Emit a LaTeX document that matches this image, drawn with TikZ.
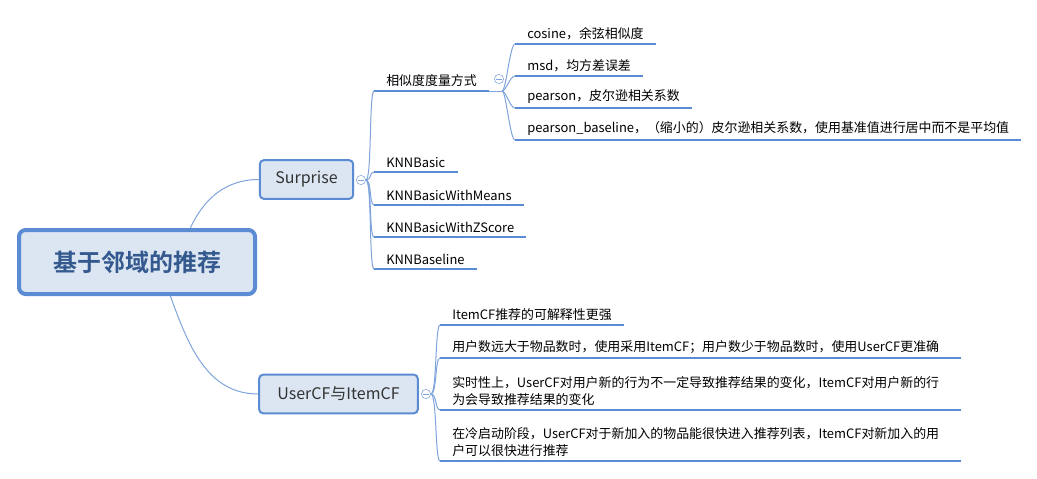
\documentclass[tikz,border=0pt]{standalone}
\usepackage{fontspec}
\setmainfont{Noto Sans CJK SC}[BoldFont={Noto Sans CJK SC Bold}]

\definecolor{mapline}{HTML}{5B8BD3}
\definecolor{mapfill}{HTML}{DCE6F2}
\definecolor{maptext}{HTML}{34598F}
\definecolor{mapthin}{HTML}{7FA3DB}

\begin{document}
\begin{tikzpicture}[x=0.75pt,y=-0.75pt,
  root/.style={draw=mapline, line width=3pt, fill=mapfill, rounded corners=5pt,
    minimum width=177pt, minimum height=48pt,
    font=\fontsize{18}{20}\selectfont\bfseries, text=maptext},
  topic/.style={draw=mapline, line width=1.5pt, fill=mapfill, rounded corners=3pt,
    minimum height=29pt, font=\fontsize{12}{14}\selectfont, text=black!80},
  item/.style={anchor=south west, inner xsep=9pt, inner ysep=3pt,
    font=\fontsize{9.7}{13}\selectfont, align=left},
  wide/.style={text width=372pt},
  uline/.style={draw=mapline, line width=2.2pt},
  link/.style={draw=mapthin, line width=0.75pt},
  fold/.style={circle, draw=mapthin, fill=white, inner sep=0pt, minimum size=7pt,
    path picture={\draw[mapthin, line width=0.6pt]
      ([xshift=1.6pt]path picture bounding box.west) --
      ([xshift=-1.6pt]path picture bounding box.east);}}]

  \useasboundingbox (0,0) rectangle (1037,478);

  %% main topics
  \node[root] (root) at (137,262) {基于邻域的推荐};
  \node[topic, minimum width=70pt] (surprise) at (306.5,179.5) {Surprise};
  \node[topic, minimum width=119pt] (usercf) at (338.5,394) {UserCF与ItemCF};

  \draw[link] ([xshift=40pt]root.north) to[out=65,in=180] (surprise.west);
  \draw[link] ([xshift=25pt]root.south) to[out=-70,in=180] (usercf.west);

  %% Surprise
  \node[fold] (fsur) at (361,180) {};
  \node[item] (sim) at (374,91) {相似度度量方式};
  \node[item] (knn1) at (374,172) {KNNBasic};
  \node[item] (knn2) at (374,205) {KNNBasicWithMeans};
  \node[item] (knn3) at (374,237) {KNNBasicWithZScore};
  \node[item] (knn4) at (374,269) {KNNBaseline};

  \foreach \n in {sim,knn1,knn2,knn3,knn4}
    \draw[link] (fsur.east) .. controls +(6,0) and +(-5,0) .. (\n.south west);

  %% similarity measures
  \node[fold] (fsim) at (499,79) {};
  \draw[link] (sim.south east) -- ++(13,0) coordinate (simj);
  \node[item] (cos) at (515,44) {cosine，余弦相似度};
  \node[item] (msd) at (515,76) {msd，均方差误差};
  \node[item] (prs) at (515,108) {pearson，皮尔逊相关系数};
  \node[item] (prsb) at (515,140) {pearson\_baseline，（缩小的）皮尔逊相关系数，使用基准值进行居中而不是平均值};

  \foreach \n in {cos,msd,prs,prsb}
    \draw[link] (simj) .. controls +(4,0) and +(-5,0) .. (\n.south west);

  %% UserCF vs ItemCF
  \node[fold] (fcf) at (426,394) {};
  \node[item] (cf1) at (440,325) {ItemCF推荐的可解释性更强};
  \node[item, wide] (cf2) at (440,358) {用户数远大于物品数时，使用采用ItemCF；用户数少于物品数时，使用UserCF更准确};
  \node[item, wide] (cf3) at (440,410) {实时性上，UserCF对用户新的行为不一定导致推荐结果的变化，ItemCF对用户新的行\\为会导致推荐结果的变化};
  \node[item, wide] (cf4) at (440,461) {在冷启动阶段，UserCF对于新加入的物品能很快进入推荐列表，ItemCF对新加入的用\\户可以很快进行推荐};

  \foreach \n in {cf1,cf2,cf3,cf4}
    \draw[link] (fcf.east) .. controls +(6,0) and +(-5,0) .. (\n.south west);

  %% underlines
  \foreach \n in {sim,knn1,knn2,knn3,knn4,cos,msd,prs,prsb,cf1,cf2,cf3,cf4}
    \draw[uline] (\n.south west) -- (\n.south east);
\end{tikzpicture}
\end{document}
